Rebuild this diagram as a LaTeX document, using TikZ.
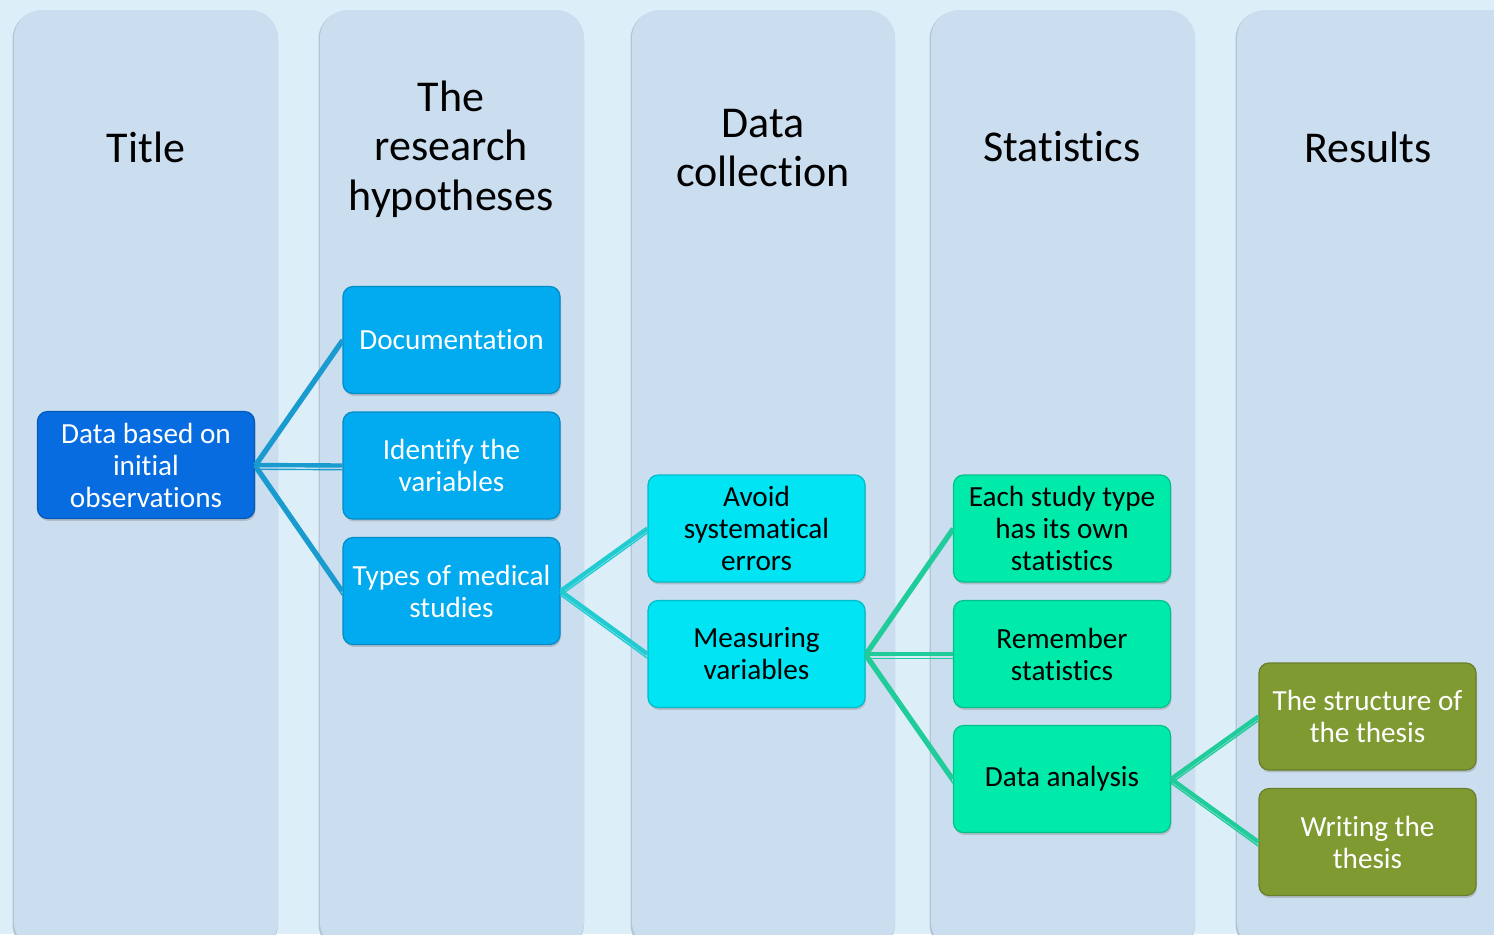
\documentclass[tikz,border=0pt]{standalone}
\usepackage{fontspec}
\setmainfont{Carlito}[Ligatures=NoCommon]
\usetikzlibrary{shadows}

\definecolor{bgcol}{HTML}{DCEFF8}
\definecolor{lanecol}{HTML}{CBDEF0}
\definecolor{laneedge}{HTML}{B4C4D2}
\definecolor{navybox}{HTML}{066CE0}
\definecolor{skybox}{HTML}{02AAF0}
\definecolor{cyanbox}{HTML}{00E4F4}
\definecolor{greenbox}{HTML}{00EBAA}
\definecolor{olivebox}{HTML}{809A32}
\definecolor{bluelink}{HTML}{1A9BD0}
\definecolor{cyanlink}{HTML}{20CCD2}
\definecolor{greenlink}{HTML}{20CC9A}

% thick line with a thin twin just below it
\newcommand\twinline[3]{%
  \draw[#3, line width=2.2pt] (#1.east) -- (#2.west);
  \draw[#3, line width=0.7pt, transform canvas={yshift=-2.1pt}] (#1.east) -- (#2.west);
}

\tikzset{
  lane/.style={fill=lanecol, rounded corners=14pt},
  laneshade/.style={fill=laneedge, rounded corners=14pt},
  head/.style={font=\fontsize{22}{24.75}\selectfont, align=center},
  box/.style={rounded corners=5pt, minimum width=108.5pt, minimum height=53.5pt,
    fill=#1, draw=#1!82!black, line width=0.6pt,
    align=center, inner sep=2pt, font=\fontsize{14.6}{16}\selectfont,
    drop shadow={shadow xshift=0.5pt, shadow yshift=-1.2pt, opacity=0.35}},
}

\begin{document}
\begin{tikzpicture}[x=0.5pt, y=-0.5pt]
  \useasboundingbox (0,0) rectangle (1494,934);
  \clip (0,0) rectangle (1494,934);
  \fill[bgcol] (0,0) rectangle (1494,934);

  % lanes
  \foreach \xa/\xb in {14/278, 320/584, 632/895, 931/1195, 1237/1520}{
    \fill[laneshade] (\xa-1.5,11) rectangle (\xb,952);
    \fill[lane] (\xa,10) rectangle (\xb,950);
  }

  % headers
  \node[head] (htitle) at (146,147) {Title};
  \node[head] (hhyp) at (451,149) {The\\research\\hypotheses};
  \node[head] (hdata) at (763,148) {Data\\collection};
  \node[head] (hstat) at (1062,147) {Statistics};
  \node[head] (hres) at (1368,147) {Results};

  % boxes
  \node[box=navybox, text=white] (obs) at (146,465) {Data based on\\initial\\observations};
  \node[box=skybox, text=white] (doc) at (451.5,340) {Documentation};
  \node[box=skybox, text=white] (ident) at (451.5,465.5) {Identify the\\variables};
  \node[box=skybox, text=white] (types) at (451.5,591) {Types of medical\\studies};
  \node[box=cyanbox] (avoid) at (756.5,528.5) {Avoid\\systematical\\errors};
  \node[box=cyanbox] (meas) at (756.5,654) {Measuring\\variables};
  \node[box=greenbox] (each) at (1062,528.5) {Each study type\\has its own\\statistics};
  \node[box=greenbox] (remem) at (1062,654) {Remember\\statistics};
  \node[box=greenbox] (anal) at (1062,779) {Data analysis};
  \node[box=olivebox, text=white] (struct) at (1367.5,716.5) {The structure of\\the thesis};
  \node[box=olivebox, text=white] (write) at (1367.5,842) {Writing the\\thesis};

  % links
  \twinline{obs}{doc}{bluelink}
  \twinline{obs}{ident}{bluelink}
  \twinline{obs}{types}{bluelink}
  \twinline{types}{avoid}{cyanlink}
  \twinline{types}{meas}{cyanlink}
  \twinline{meas}{each}{greenlink}
  \twinline{meas}{remem}{greenlink}
  \twinline{meas}{anal}{greenlink}
  \twinline{anal}{struct}{greenlink}
  \twinline{anal}{write}{greenlink}
\end{tikzpicture}
\end{document}
